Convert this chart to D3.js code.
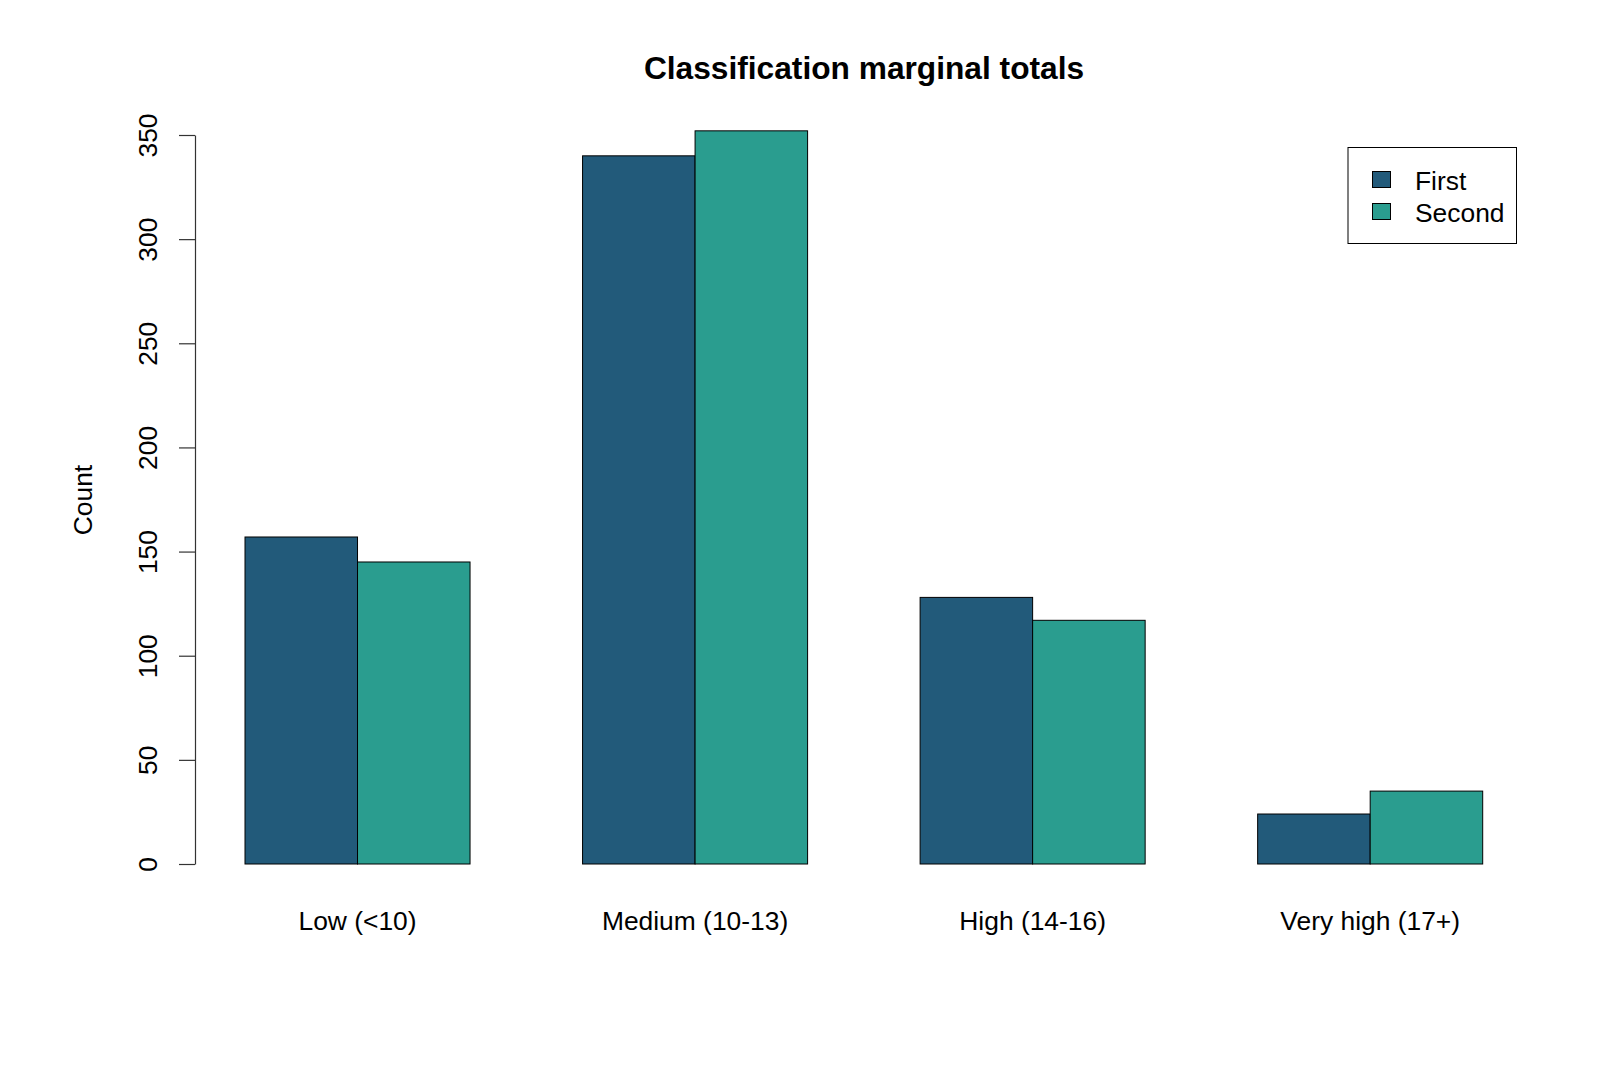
<!DOCTYPE html>
<html><head><meta charset="utf-8">
<script src="https://cdn.jsdelivr.net/npm/d3@7"></script>
<style>
html,body{margin:0;padding:0;background:#fff;}
svg{display:block;}
text{font-family:"Liberation Sans",Arial,sans-serif;fill:#000;}
</style></head>
<body>
<svg id="chart" width="1600" height="1067"></svg>
<script>
const categories = ["Low (<10)", "Medium (10-13)", "High (14-16)", "Very high (17+)"];
const seriesNames = ["First", "Second"];
const firstValues = [157, 340, 128, 24];
const secondValues = [145, 352, 117, 35];
const yTicks = [0, 50, 100, 150, 200, 250, 300, 350];
const colors = ["#225A7A", "#2A9D8F"];

const svg = d3.select("#chart");
const W = 1600, H = 1067;
svg.append("rect").attr("width", W).attr("height", H).attr("fill", "#fff");

const fs = 26.4;
const y = d3.scaleLinear().domain([0, 350]).range([864, 135]);
const x0 = d3.scaleBand().domain(categories).range([245, 1482.7]).paddingInner(1/3).paddingOuter(0);
const x1 = d3.scaleBand().domain(seriesNames).range([0, x0.bandwidth()]).padding(0);

const data = categories.map((c, i) => ({cat: c, vals: [firstValues[i], secondValues[i]]}));

const groups = svg.append("g").selectAll("g").data(data).join("g")
  .attr("transform", d => `translate(${x0(d.cat)},0)`);
groups.selectAll("rect").data(d => d.vals.map((v, j) => ({v, s: seriesNames[j], j})))
  .join("rect")
  .attr("x", d => x1(d.s))
  .attr("width", x1.bandwidth())
  .attr("y", d => y(d.v))
  .attr("height", d => y(0) - y(d.v))
  .attr("fill", d => colors[d.j])
  .attr("stroke", "#000")
  .attr("stroke-width", 1);

// x labels
svg.append("g").selectAll("text").data(categories).join("text")
  .attr("x", d => x0(d) + x0.bandwidth() / 2)
  .attr("y", 930)
  .attr("text-anchor", "middle")
  .style("font-size", fs + "px")
  .text(d => d);

// y axis
const yAxis = d3.axisLeft(y).tickValues(yTicks).tickSize(16).tickSizeOuter(0).tickPadding(0);
const ga = svg.append("g").attr("transform", "translate(195,0)").call(yAxis);
ga.select(".domain").attr("stroke", "#333").attr("stroke-width", 1.2);
ga.selectAll(".tick line").attr("stroke", "#333").attr("stroke-width", 1.2);
ga.selectAll(".tick text")
  .attr("x", null).attr("dy", null)
  .attr("transform", "translate(-38,0) rotate(-90)")
  .attr("text-anchor", "middle")
  .attr("fill", "#000")
  .style("font-family", '"Liberation Sans",Arial,sans-serif')
  .style("font-size", fs + "px");

// y title
svg.append("text")
  .attr("transform", "translate(92,500) rotate(-90)")
  .attr("text-anchor", "middle")
  .style("font-size", fs + "px")
  .text("Count");

// title
svg.append("text")
  .attr("x", 864).attr("y", 78.5)
  .attr("text-anchor", "middle")
  .style("font-size", "31.7px").style("font-weight", "bold")
  .text("Classification marginal totals");

// legend
const lg = svg.append("g");
lg.append("rect").attr("x", 1348).attr("y", 147.5).attr("width", 168.5).attr("height", 96)
  .attr("fill", "#fff").attr("stroke", "#000").attr("stroke-width", 1);
const items = lg.selectAll("g.item").data(seriesNames).join("g").attr("class", "item")
  .attr("transform", (d, i) => `translate(0,${i * 32})`);
items.append("rect").attr("x", 1372.5).attr("y", 171.5).attr("width", 18).attr("height", 16)
  .attr("fill", (d, i) => colors[i]).attr("stroke", "#000").attr("stroke-width", 1);
items.append("text").attr("x", 1415).attr("y", 190).style("font-size", fs + "px").text(d => d);
</script>
</body></html>
